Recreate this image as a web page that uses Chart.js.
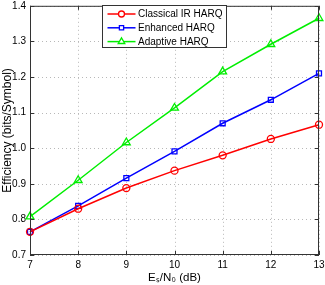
<!DOCTYPE html>
<html><head><meta charset="utf-8">
<script src="https://cdn.jsdelivr.net/npm/chart.js@4/dist/chart.umd.min.js"></script>
<style>html,body{margin:0;padding:0;background:#fff}#wrap{width:325px;height:285px}</style>
</head><body><div id="wrap"><canvas id="c" width="325" height="285"></canvas></div>
<script>
const snrDb = [7, 8, 9, 10, 11, 12, 13];
const classicalIR = [0.765, 0.830, 0.888, 0.937, 0.980, 1.026, 1.066];
const enhanced = [0.765, 0.838, 0.916, 0.991, 1.070, 1.136, 1.210];
const adaptive = [0.808, 0.910, 1.016, 1.113, 1.215, 1.292, 1.365];
const seriesNames = ['Classical IR HARQ', 'Enhanced HARQ', 'Adaptive HARQ'];
const yTicks = [0.7, 0.8, 0.9, 1, 1.1, 1.2, 1.3, 1.4];
const FONT = 'Liberation Sans, Arial, sans-serif';

function mk(label, data, color, style) {
  return { label, data: snrDb.map((x, i) => ({x, y: data[i]})), borderColor: color, backgroundColor: 'rgba(0,0,0,0)',
    borderWidth: 1.5, pointStyle: style, pointRadius: style === 'triangle' ? 4.5 : 3.5, pointBorderWidth: 1.3,
    pointBorderColor: color, pointBackgroundColor: 'rgba(0,0,0,0)', tension: 0, clip: false };
}

const framePlugin = {
  id: 'frame',
  beforeDatasetsDraw(chart) {
    const {ctx, chartArea: a, scales} = chart;
    ctx.save();
    ctx.strokeStyle = '#b8b8b8'; ctx.lineWidth = 1; ctx.setLineDash([1, 3]);
    ctx.beginPath();
    scales.x.ticks.forEach(t => {
      const p = Math.round(scales.x.getPixelForValue(t.value)) + 0.5;
      ctx.moveTo(p, a.top); ctx.lineTo(p, a.bottom);
    });
    scales.y.ticks.forEach(t => {
      const p = Math.round(scales.y.getPixelForValue(t.value)) + 0.5;
      ctx.moveTo(a.left, p); ctx.lineTo(a.right, p);
    });
    ctx.stroke();
    ctx.restore();
  },
  afterDatasetsDraw(chart) {
    const {ctx, chartArea: a, scales} = chart;
    ctx.save();
    ctx.strokeStyle = '#333'; ctx.lineWidth = 1;
    ctx.strokeRect(a.left + 0.5, a.top + 0.5, a.right - a.left - 1, a.bottom - a.top - 1);
    const L = 4;
    ctx.beginPath();
    scales.x.ticks.forEach(t => {
      const p = Math.round(scales.x.getPixelForValue(t.value)) + 0.5;
      ctx.moveTo(p, a.bottom); ctx.lineTo(p, a.bottom - L);
      ctx.moveTo(p, a.top); ctx.lineTo(p, a.top + L);
    });
    scales.y.ticks.forEach(t => {
      const p = Math.round(scales.y.getPixelForValue(t.value)) + 0.5;
      ctx.moveTo(a.left, p); ctx.lineTo(a.left + L, p);
      ctx.moveTo(a.right, p); ctx.lineTo(a.right - L, p);
    });
    ctx.stroke();
    // legend
    const bx = 102.5, by = 5.5, bw = 124, bh = 42;
    ctx.fillStyle = '#fff'; ctx.fillRect(bx, by, bw, bh);
    ctx.strokeStyle = '#333'; ctx.strokeRect(bx, by, bw, bh);
    ctx.font = '10px ' + FONT; ctx.textBaseline = 'middle';
    chart.data.datasets.forEach((ds, i) => {
      const y = by + 8.5 + i * 13.8;
      ctx.strokeStyle = ds.borderColor; ctx.lineWidth = 1.5;
      ctx.beginPath(); ctx.moveTo(bx + 5, y); ctx.lineTo(bx + 33, y); ctx.stroke();
      ctx.lineWidth = 1.3; ctx.fillStyle = '#fff';
      Chart.helpers.drawPoint(ctx, {pointStyle: ds.pointStyle, radius: ds.pointStyle === 'triangle' ? 3.8 : 3, borderWidth: 1.3}, bx + 19, y);
      ctx.fillStyle = '#000';
      ctx.fillText(ds.label, bx + 35.5, y + 0.5);
    });
    ctx.restore();
  }
};

new Chart(document.getElementById('c'), {
  type: 'line',
  data: { datasets: [
    mk(seriesNames[0], classicalIR, '#ff0000', 'circle'),
    mk(seriesNames[1], enhanced, '#0000ff', 'rect'),
    mk(seriesNames[2], adaptive, '#00ee00', 'triangle')
  ]},
  options: {
    responsive: false, animation: false, devicePixelRatio: 1,
    layout: { padding: { left: 0, right: 6, top: 3, bottom: 0 } },
    plugins: { legend: { display: false }, tooltip: { enabled: false } },
    scales: {
      x: { type: 'linear', min: 7, max: 13,
        afterFit(s) { s.height = 30; s.paddingLeft = 0; s.paddingRight = 0; },
        afterBuildTicks(s) { s.ticks = snrDb.map(v => ({value: v})); },
        grid: { display: false, drawTicks: false },
        border: { display: false },
        ticks: { color: '#000', font: { family: FONT, size: 10 }, padding: 4, maxRotation: 0 },
        title: { display: true, text: 'Eₛ/N₀ (dB)', color: '#000', font: { family: FONT, size: 11.5 }, padding: { top: 0, bottom: 0 } }
      },
      y: { type: 'linear', min: 0.7, max: 1.4,
        afterFit(s) { s.width = 30; s.paddingTop = 0; s.paddingBottom = 0; },
        afterBuildTicks(s) { s.ticks = yTicks.map(v => ({value: v})); },
        grid: { display: false, drawTicks: false },
        border: { display: false },
        ticks: { color: '#000', font: { family: FONT, size: 10 }, padding: 4 },
        title: { display: true, text: 'Efficiency (bits/Symbol)', color: '#000', font: { family: FONT, size: 12 }, padding: { top: 0, bottom: 0 } }
      }
    }
  },
  plugins: [framePlugin]
});
</script></body></html>
